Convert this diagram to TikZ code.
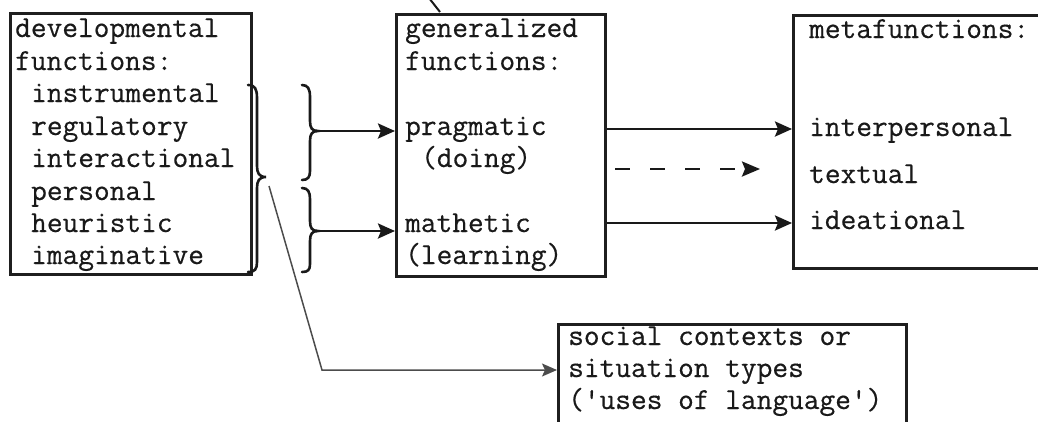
\documentclass[tikz,border=0pt]{standalone}
\usepackage{fontspec}
\newfontfamily\typewriter{Latin Modern Mono}[FakeBold=0.5]
\usetikzlibrary{arrows.meta}
\begin{document}
\begin{tikzpicture}[x=1pt,y=-1pt,
  box/.style={draw=black!88,line width=2.8pt,anchor=north west,inner sep=0pt},
  txt/.style={anchor=base west,inner sep=0pt,text=black!90,
    font=\typewriter\fontsize{30.5}{32}\selectfont},
  arr/.style={draw=black!90,line width=2.6pt,-{Stealth[length=17pt,width=15pt,inset=3pt]}},
  bracestroke/.style={draw=black!90,line width=2.6pt,line cap=round},
  thinline/.style={draw=black!70,line width=1.5pt,-{Stealth[length=15pt,width=13pt,inset=3pt]}},
  dasharrow/.style={draw=black!90,line width=2.6pt,dash pattern=on 15pt off 20pt,
    -{Stealth[length=18pt,width=15pt,inset=3pt]}}]
\useasboundingbox (0,0) rectangle (1038,421);
\clip (0,0) rectangle (1038,421);

% boxes
\node[box,minimum width=241pt,minimum height=261pt] (dev) at (9,12) {};
\node[box,minimum width=209pt,minimum height=262pt] (gen) at (395,13) {};
\node[box,minimum width=280pt,minimum height=253pt] (meta) at (792,14) {};
\node[box,minimum width=348pt,minimum height=130pt] (soc) at (557,323) {};

% developmental functions
\node[txt] (d1) at (15,37) {developmental};
\node[txt] (d2) at (15,70) {functions:};
\node[txt] (d3) at (31,102) {instrumental};
\node[txt] (d4) at (31,135) {regulatory};
\node[txt] (d5) at (31,167) {interactional};
\node[txt] (d6) at (31,200) {personal};
\node[txt] (d7) at (31,232) {heuristic};
\node[txt] (d8) at (31,264) {imaginative};

% generalized functions
\node[txt] (g1) at (405,37) {generalized};
\node[txt] (g2) at (405,70) {functions:};
\node[txt] (g3) at (405,135) {pragmatic};
\node[txt] (g4) at (421,167) {(doing)};
\node[txt] (g5) at (405,232) {mathetic};
\node[txt] (g6) at (405,264) {(learning)};

% metafunctions
\node[txt] (m1) at (809,38) {metafunctions:};
\node[txt] (m2) at (809,136) {interpersonal};
\node[txt] (m3) at (809,183) {textual};
\node[txt] (m4) at (809,229) {ideational};

% social contexts
\node[txt] (s1) at (568,345) {social contexts or};
\node[txt] (s2) at (568,377) {situation types};
\node[txt] (s3) at (568,409) {('uses of language')};

% braces
\draw[bracestroke] (248,85) .. controls (255,85) and (257,89) .. (257,98)
  -- (257,166) .. controls (257,173) and (259,177) .. (266,177)
  .. controls (259,177) and (257,181) .. (257,188)
  -- (257,262) .. controls (257,269) and (255,272) .. (248,272);
\draw[bracestroke] (302,85) .. controls (308,85) and (310,89) .. (310,97)
  -- (310,121) .. controls (310,128) and (312,131) .. (318,131)
  .. controls (312,131) and (310,134) .. (310,141)
  -- (310,171) .. controls (310,177) and (308,180) .. (302,180);
\draw[bracestroke] (302,188) .. controls (308,188) and (310,192) .. (310,199)
  -- (310,221) .. controls (310,228) and (312,231) .. (318,231)
  .. controls (312,231) and (310,234) .. (310,241)
  -- (310,264) .. controls (310,270) and (308,272) .. (302,272);

% brace tips and bends
\coordinate (tipA) at (318,131);
\coordinate (tipB) at (318,231);
\coordinate (tipBig) at (269,186);
\coordinate (bend) at (322,370);
\coordinate (dashS) at (615,169);
\coordinate (dashE) at (760,169);
\coordinate (offtop) at (429,-2);
\coordinate (topend) at (440,12);

% connectors
\draw[arr] (tipA) -- (tipA -| gen.west);
\draw[arr] (tipB) -- (tipB -| gen.west);
\draw[arr] (gen.east |- 0,129) -- (meta.west |- 0,129);
\draw[arr] (gen.east |- 0,223) -- (meta.west |- 0,223);
\draw[dasharrow] (dashS) -- (dashE);
\draw[thinline] (tipBig) -- (bend) -- (bend -| soc.west);
\draw[draw=black!90,line width=2pt] (offtop) -- (topend);
\end{tikzpicture}
\end{document}
